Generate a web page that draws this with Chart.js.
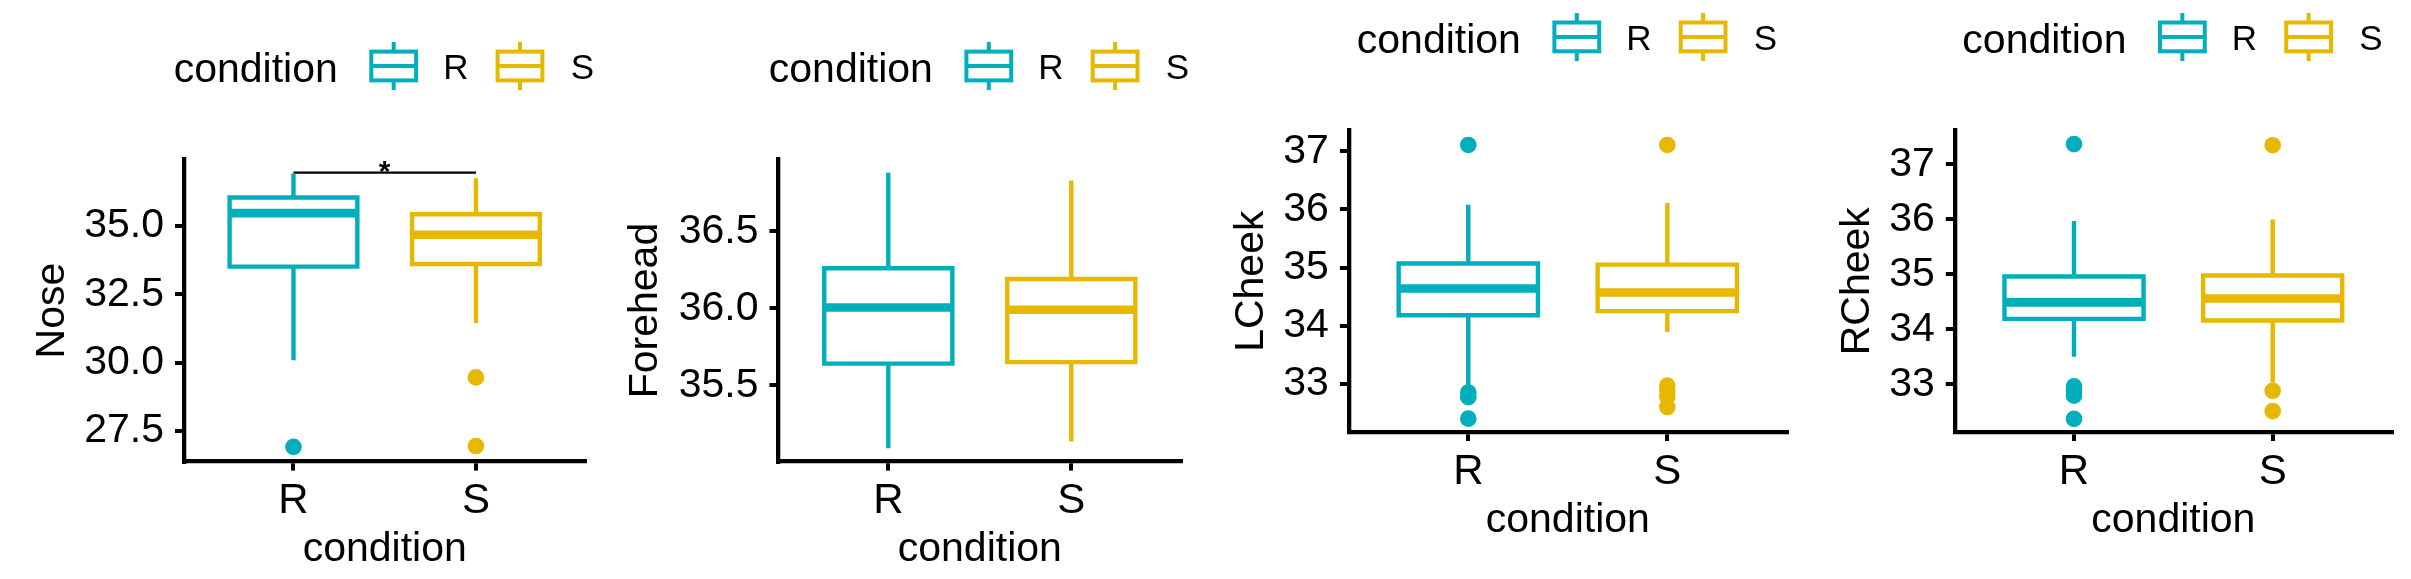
<!DOCTYPE html>
<html>
<head>
<meta charset="utf-8">
<script src="https://cdn.jsdelivr.net/npm/chart.js@4.4.1/dist/chart.umd.min.js"></script>
<style>
  html, body { margin: 0; padding: 0; background: #fff; }
  #wrap { position: relative; width: 2411px; height: 579px; overflow: hidden; }
  #wrap canvas { position: absolute; top: 0; }
</style>
</head>
<body>
<div id="wrap">
  <canvas id="nose" width="600" height="579" style="left:0px"></canvas>
  <canvas id="forehead" width="603" height="579" style="left:600px"></canvas>
  <canvas id="lcheek" width="603" height="579" style="left:1203px"></canvas>
  <canvas id="rcheek" width="605" height="579" style="left:1806px"></canvas>
</div>
<script>
const groups = ['R', 'S'];
const groupColors = ['#00AFBB', '#E7B800'];
const legendTitle = 'condition';
const xTitle = 'condition';

// Nose
const noseLow = [30.09, 31.45];
const noseQ1 = [33.51, 33.61];
const noseMed = [35.47, 34.68];
const noseQ3 = [36.04, 35.43];
const noseHigh = [36.92, 36.74];
const noseOut = [[26.92], [29.46, 26.95]];
const noseTicks = [27.5, 30, 32.5, 35];
const noseTickLabels = ['27.5', '30.0', '32.5', '35.0'];
const noseRange = [26.38, 37.43];
const noseBracket = [1, 2, 36.95];
const noseSignif = '*';

// Forehead
const foreLow = [35.09, 35.135];
const foreQ1 = [35.64, 35.65];
const foreMed = [36.005, 35.99];
const foreQ3 = [36.26, 36.19];
const foreHigh = [36.88, 36.83];
const foreOut = [[], []];
const foreTicks = [35.5, 36, 36.5];
const foreTickLabels = ['35.5', '36.0', '36.5'];
const foreRange = [35.004, 36.966];

// LCheek
const lcLow = [32.95, 33.89];
const lcQ1 = [34.18, 34.25];
const lcMed = [34.64, 34.57];
const lcQ3 = [35.07, 35.05];
const lcHigh = [36.08, 36.11];
const lcOut = [[37.11, 32.85, 32.77, 32.40], [37.11, 32.97, 32.88, 32.78, 32.60]];
const lcTicks = [33, 34, 35, 36, 37];
const lcTickLabels = ['33', '34', '35', '36', '37'];
const lcRange = [32.17, 37.36];

// RCheek
const rcLow = [33.50, 33.03];
const rcQ1 = [34.19, 34.16];
const rcMed = [34.49, 34.56];
const rcQ3 = [34.96, 34.98];
const rcHigh = [35.97, 36.00];
const rcOut = [[37.37, 32.96, 32.88, 32.79, 32.37], [37.35, 32.88, 32.51]];
const rcTicks = [33, 34, 35, 36, 37];
const rcTickLabels = ['33', '34', '35', '36', '37'];
const rcRange = [32.13, 37.62];

const FONT = '"Liberation Sans", Arial, Helvetica, sans-serif';
Chart.defaults.font.family = FONT;
Chart.defaults.color = '#000';

const panels = [
  { canvas: 'nose', title: 'Nose', low: noseLow, q1: noseQ1, med: noseMed, q3: noseQ3, high: noseHigh, out: noseOut,
    ticks: noseTicks, tickLabels: noseTickLabels, range: noseRange, bracket: noseBracket, signif: noseSignif },
  { canvas: 'forehead', title: 'Forehead', low: foreLow, q1: foreQ1, med: foreMed, q3: foreQ3, high: foreHigh, out: foreOut,
    ticks: foreTicks, tickLabels: foreTickLabels, range: foreRange },
  { canvas: 'lcheek', title: 'LCheek', low: lcLow, q1: lcQ1, med: lcMed, q3: lcQ3, high: lcHigh, out: lcOut,
    ticks: lcTicks, tickLabels: lcTickLabels, range: lcRange },
  { canvas: 'rcheek', title: 'RCheek', low: rcLow, q1: rcQ1, med: rcMed, q3: rcQ3, high: rcHigh, out: rcOut,
    ticks: rcTicks, tickLabels: rcTickLabels, range: rcRange }
];

// plot area of each panel in canvas pixels, plus title / label offsets
const frames = [
  { left: 184, right: 585.4, top: 159.5, bottom: 461.6, yTitlePad: 27.8, xTickPad: 6, xTitlePad: 4.5 },
  { left: 178.5, right: 581.1, top: 159.5, bottom: 461.6, yTitlePad: 20.9, xTickPad: 6, xTitlePad: 4.5 },
  { left: 145.9, right: 583.7, top: 130.4, bottom: 432, yTitlePad: 23.8, xTickPad: 6, xTitlePad: 33.5 },
  { left: 148.8, right: 585.9, top: 130.4, bottom: 432, yTitlePad: 26.7, xTickPad: 6, xTitlePad: 33.5 }
];

function boxDatasets(p) {
  const sets = [];
  const h = 0.35;
  groups.forEach((g, i) => {
    const x = i + 1;
    const c = groupColors[i];
    sets.push({
      label: g + ' box',
      data: [{x: x, y: p.q1[i]}, {x: x + h, y: p.q1[i]}, {x: x + h, y: p.q3[i]},
             {x: x - h, y: p.q3[i]}, {x: x - h, y: p.q1[i]}, {x: x, y: p.q1[i]}],
      borderColor: c, borderWidth: 4.4, borderJoinStyle: 'miter', showLine: true, pointRadius: 0
    });
    sets.push({
      label: g + ' median',
      data: [{x: x - h, y: p.med[i]}, {x: x + h, y: p.med[i]}],
      borderColor: c, borderWidth: 8.6, showLine: true, pointRadius: 0
    });
    sets.push({
      label: g + ' whiskers',
      data: [{x: x, y: p.q3[i]}, {x: x, y: p.high[i]}, {x: x, y: null}, {x: x, y: p.q1[i]}, {x: x, y: p.low[i]}],
      borderColor: c, borderWidth: 4.4, showLine: true, spanGaps: false, pointRadius: 0
    });
    sets.push({
      label: g + ' outliers',
      data: p.out[i].map(v => ({x: x, y: v})),
      backgroundColor: c, borderWidth: 0, pointRadius: 8.3, showLine: false
    });
  });
  if (p.bracket) {
    sets.push({
      label: 'comparison',
      data: [{x: p.bracket[0], y: p.bracket[2]}, {x: p.bracket[1], y: p.bracket[2]}],
      borderColor: '#000', borderWidth: 2.2, showLine: true, pointRadius: 0
    });
  }
  return sets;
}

// legend: "condition" followed by a boxplot key for each group
const keyLegend = {
  id: 'keyLegend',
  afterDraw(chart) {
    const {ctx, chartArea} = chart;
    const cx = (chartArea.left + chartArea.right) / 2;
    const cy = chartArea.top - 93.5;
    const keyLeft = [-13.4, 112.9];
    const textLeft = [58.5, 186];
    const w = 44.8, hh = 14.4;
    ctx.save();
    ctx.fillStyle = '#000';
    ctx.textAlign = 'left';
    ctx.textBaseline = 'alphabetic';
    ctx.font = '41px ' + FONT;
    ctx.fillText(legendTitle, cx - 211, cy + 16);
    groups.forEach((g, i) => {
      const x0 = cx + keyLeft[i];
      ctx.strokeStyle = groupColors[i];
      ctx.lineWidth = 4;
      ctx.strokeRect(x0, cy - hh, w, 2 * hh);
      ctx.beginPath();
      ctx.moveTo(x0, cy); ctx.lineTo(x0 + w, cy);
      ctx.moveTo(x0 + w / 2, cy - hh); ctx.lineTo(x0 + w / 2, cy - 24);
      ctx.moveTo(x0 + w / 2, cy + hh); ctx.lineTo(x0 + w / 2, cy + 24);
      ctx.stroke();
      ctx.fillStyle = '#000';
      ctx.font = '35px ' + FONT;
      ctx.fillText(g, cx + textLeft[i], cy + 13.4);
    });
    ctx.restore();
  }
};

// significance label over the comparison bracket
const signifLabel = {
  id: 'signifLabel',
  afterDatasetsDraw(chart, args, opts) {
    if (!opts.text) return;
    const {ctx, scales} = chart;
    const x = scales.x.getPixelForValue((opts.from + opts.to) / 2);
    const y = scales.y.getPixelForValue(opts.y);
    ctx.save();
    ctx.fillStyle = '#000';
    ctx.font = 'bold 30px ' + FONT;
    ctx.textAlign = 'center';
    ctx.textBaseline = 'alphabetic';
    ctx.fillText(opts.text, x, y + 8);
    ctx.restore();
  }
};

panels.forEach((p, k) => {
  const f = frames[k];
  const canvas = document.getElementById(p.canvas);
  const axisGrid = { drawOnChartArea: false, tickLength: 9, color: '#000', lineWidth: 4 };
  const axisBorder = { display: true, color: '#000', width: 4.3 };
  new Chart(canvas, {
    type: 'scatter',
    data: { datasets: boxDatasets(p) },
    options: {
      responsive: false,
      animation: false,
      layout: { padding: { left: 0, top: f.top, right: canvas.width - f.right, bottom: 0 } },
      plugins: {
        legend: { display: false },
        tooltip: { enabled: false },
        signifLabel: p.bracket ? { from: p.bracket[0], to: p.bracket[1], y: p.bracket[2], text: p.signif } : {}
      },
      scales: {
        x: {
          type: 'linear', min: 0.4, max: 2.6, bounds: 'data',
          afterBuildTicks: ax => { ax.ticks = groups.map((g, i) => ({ value: i + 1 })); },
          afterFit: ax => { ax.height = canvas.height - f.bottom; },
          ticks: { autoSkip: false, maxRotation: 0, padding: f.xTickPad, color: '#000', font: { size: 42 },
                   callback: (v, i) => groups[i] },
          grid: axisGrid,
          border: axisBorder,
          title: { display: true, text: xTitle, color: '#000', font: { size: 41 }, padding: { top: 0, bottom: f.xTitlePad } }
        },
        y: {
          type: 'linear', min: p.range[0], max: p.range[1], bounds: 'data',
          afterBuildTicks: ax => { ax.ticks = p.ticks.map(v => ({ value: v })); },
          afterFit: ax => { ax.width = f.left; },
          ticks: { autoSkip: false, padding: 11, color: '#000', font: { size: 41 },
                   callback: (v, i) => p.tickLabels[i] },
          grid: axisGrid,
          border: axisBorder,
          title: { display: true, text: p.title, color: '#000', font: { size: 41 }, padding: { top: f.yTitlePad, bottom: 0 } }
        }
      }
    },
    plugins: p.bracket ? [keyLegend, signifLabel] : [keyLegend]
  });
});
</script>
</body>
</html>
